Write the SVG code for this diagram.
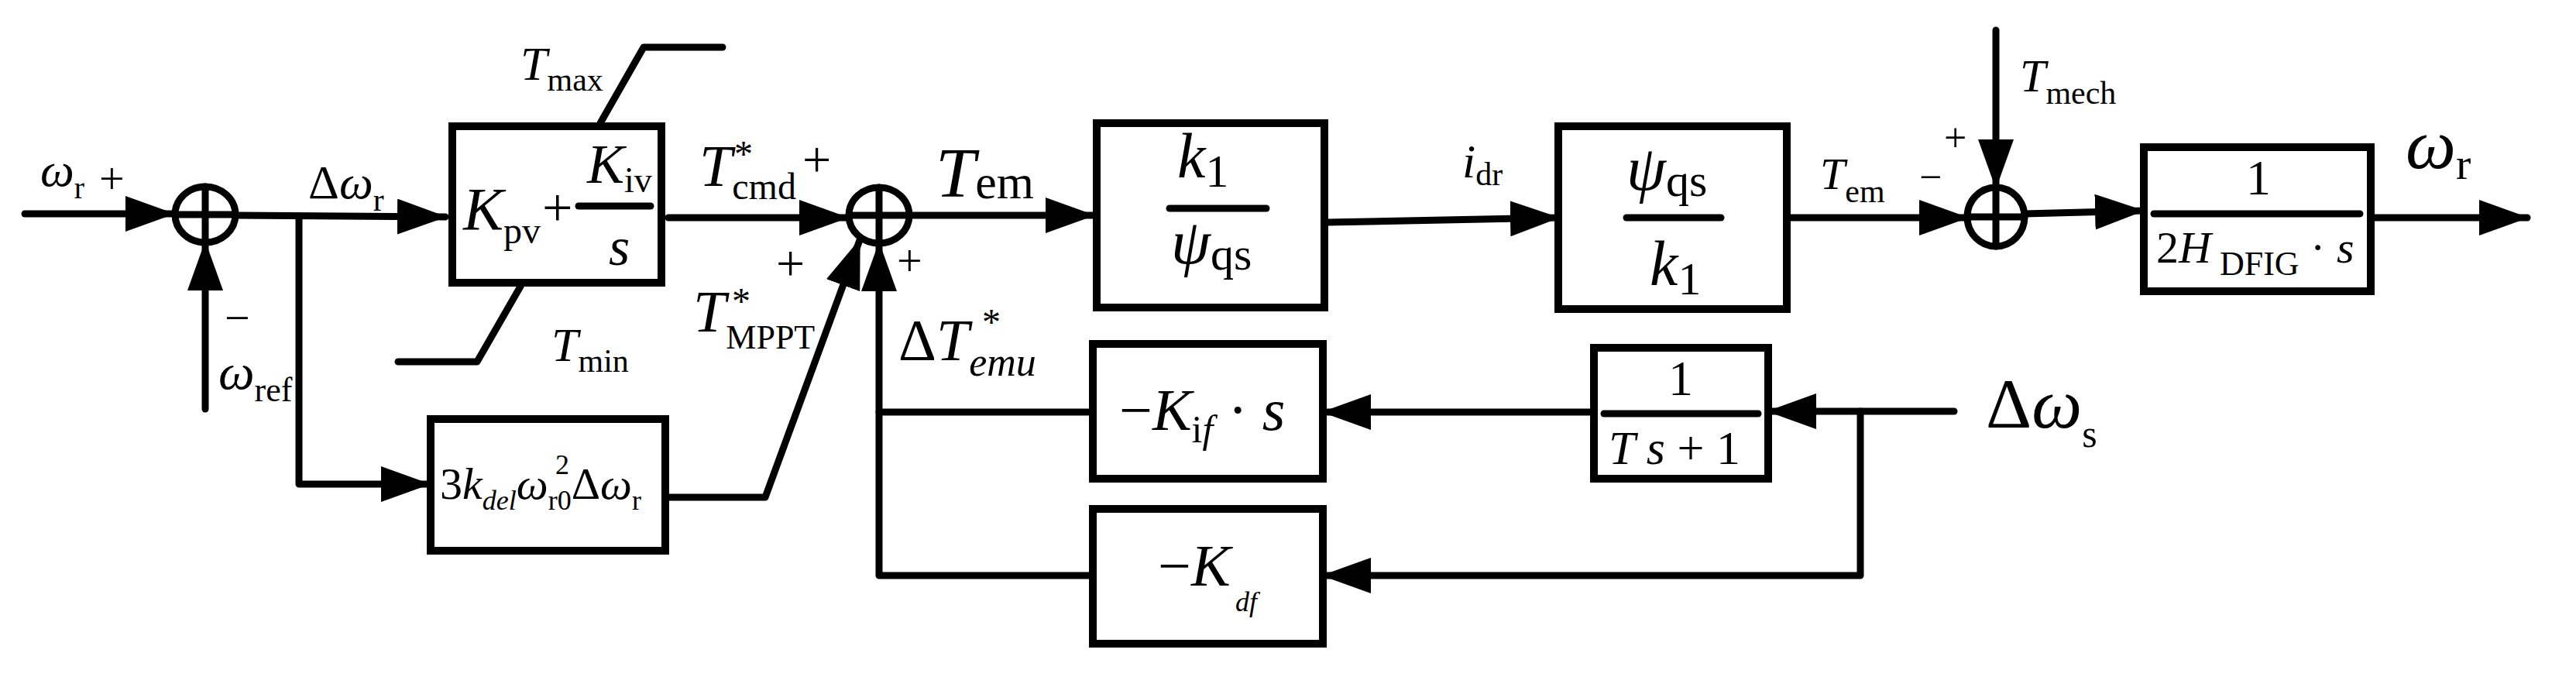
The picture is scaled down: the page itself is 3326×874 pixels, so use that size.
<svg xmlns="http://www.w3.org/2000/svg" width="3326" height="874" viewBox="0 0 3326 874">
<style>
.l{fill:none;stroke:#000;stroke-width:9;stroke-linecap:round;stroke-linejoin:round}
.b{fill:#fff;stroke:#000;stroke-width:10}
text{font-family:"Liberation Serif","Times New Roman",serif;fill:#000}
.i{font-style:italic}
</style>
<defs>
<marker id="a" markerUnits="userSpaceOnUse" markerWidth="64" markerHeight="46" refX="62" refY="23" orient="auto"><path d="M0,0 L64,23 L0,46 z" fill="#000"/></marker>
</defs>
<g id="connectors" class="l">
<path d="M32,276 L224,276" marker-end="url(#a)"/>
<path d="M265,528 L265,313" marker-end="url(#a)"/>
<path d="M305,278 L575,280" marker-end="url(#a)"/>
<path d="M386,279 L386,625 L554,625" marker-end="url(#a)"/>
<path d="M863,281 L1094,281" marker-end="url(#a)"/>
<path d="M859,642 L988,642 L1110,310" marker-end="url(#a)"/>
<path d="M1411,743 L1135,743 L1135,314" marker-end="url(#a)"/>
<path d="M1411,532 L1135,532"/>
<path d="M1174,278 L1412,278" marker-end="url(#a)"/>
<path d="M1714,287 L2012,281" marker-end="url(#a)"/>
<path d="M2307,281 L2540,281" marker-end="url(#a)"/>
<path d="M2577,39 L2577,242" marker-end="url(#a)"/>
<path d="M2614,276 L2767,272" marker-end="url(#a)"/>
<path d="M3061,281 L3263,281" marker-end="url(#a)"/>
<path d="M2523,531 L2283,531" marker-end="url(#a)"/>
<path d="M2058,532 L1708,532" marker-end="url(#a)"/>
<path d="M2402,531 L2402,743 L1708,743" marker-end="url(#a)"/>
<path d="M775,159 L831,61 L933,61"/>
<path d="M673,368 L616,467 L514,467"/>
</g>
<g id="sum1" class="l"><ellipse cx="265" cy="277" rx="39" ry="36"/><path d="M226,277 H304 M265,241 V313"/></g>
<g id="sum2" class="l"><ellipse cx="1135" cy="278" rx="39" ry="36"/><path d="M1096,278 H1174 M1135,242 V314"/></g>
<g id="sum3" class="l"><ellipse cx="2577" cy="280" rx="37" ry="38"/><path d="M2540,280 H2614 M2577,242 V318"/></g>
<g id="pi"><rect class="b" x="584" y="163" width="270" height="202"/>
<text x="598" y="296" font-size="78" class="i">K<tspan font-size="48" font-style="normal" dy="18">pv</tspan></text>
<text x="700" y="292" font-size="70">+</text>
<path class="l" d="M747,266 H840"/>
<text x="758" y="236" font-size="72" class="i">K<tspan font-size="46" font-style="normal" dy="12">iv</tspan></text>
<text x="786" y="342" font-size="70" class="i">s</text>
</g>
<g id="mppt"><rect class="b" x="556" y="541" width="303" height="170"/>
<text x="568" y="644" font-size="58">3<tspan class="i">k</tspan><tspan class="i" font-size="36" dy="14">del</tspan><tspan class="i" font-size="58" dy="-14">ω</tspan><tspan font-size="36" dy="14">r0</tspan><tspan font-size="58" dy="-14">Δ</tspan><tspan class="i" font-size="58">ω</tspan><tspan font-size="36" dy="14">r</tspan></text>
<text x="717" y="612" font-size="36">2</text>
</g>
<g id="k1psi"><rect class="b" x="1416" y="159" width="294" height="238"/>
<text x="1520" y="229" font-size="82" class="i">k<tspan font-size="60" font-style="normal" dy="12">1</tspan></text>
<path class="l" d="M1510,269 H1635"/>
<text x="1512" y="340" font-size="82" class="i">ψ<tspan font-size="60" font-style="normal" dy="8">qs</tspan></text>
</g>
<g id="psik1"><rect class="b" x="2012" y="163" width="295" height="236"/>
<text x="2100" y="245" font-size="82" class="i">ψ<tspan font-size="60" font-style="normal" dy="8">qs</tspan></text>
<path class="l" d="M2100,281 H2222"/>
<text x="2130" y="368" font-size="82" class="i">k<tspan font-size="60" font-style="normal" dy="12">1</tspan></text>
</g>
<g id="kif"><rect class="b" x="1411" y="444" width="297" height="174"/>
<text x="1445" y="555" font-size="76">−<tspan class="i">K</tspan><tspan font-size="50" dy="16">i</tspan><tspan class="i" font-size="50">f</tspan><tspan dy="-16"> · </tspan><tspan class="i">s</tspan></text>
</g>
<g id="kdf"><rect class="b" x="1411" y="657" width="297" height="174"/>
<text x="1495" y="756" font-size="76">−<tspan class="i">K</tspan></text>
<text x="1595" y="789" font-size="36" class="i">df</text>
</g>
<g id="lag"><rect class="b" x="2058" y="449" width="225" height="169"/>
<text x="2170" y="510" font-size="64" text-anchor="middle">1</text>
<path class="l" d="M2071,534 H2270"/>
<text x="2077" y="599" font-size="62"><tspan class="i">T s</tspan> + 1</text>
</g>
<g id="inertia"><rect class="b" x="2768" y="190" width="293" height="186"/>
<text x="2916" y="251" font-size="64" text-anchor="middle">1</text>
<path class="l" d="M2781,276 H3047"/>
<text x="2784" y="339" font-size="58">2<tspan class="i">H</tspan><tspan font-size="44" dy="16"> DFIG</tspan><tspan dy="-16"> · </tspan><tspan class="i">s</tspan></text>
</g>
<g id="labels">
<text x="52" y="240" font-size="62" class="i">ω<tspan font-size="40" font-style="normal" dy="16">r</tspan></text>
<text x="128" y="250" font-size="58">+</text>
<text x="290" y="430" font-size="58">−</text>
<text x="282" y="502" font-size="66" class="i">ω<tspan font-size="44" font-style="normal" dy="16">ref</tspan></text>
<text x="398" y="256" font-size="62">Δ<tspan class="i">ω</tspan><tspan font-size="42" dy="16">r</tspan></text>
<text x="672" y="103" font-size="62" class="i">T<tspan font-size="42" font-style="normal" dy="14">max</tspan></text>
<text x="712" y="466" font-size="62" class="i">T<tspan font-size="42" font-style="normal" dy="14">min</tspan></text>
<text x="903" y="240" font-size="76" class="i">T<tspan font-size="48" font-style="normal" dy="17">cmd</tspan></text>
<text x="948" y="215" font-size="48">*</text>
<text x="1036" y="228" font-size="66">+</text>
<text x="895" y="428" font-size="76" class="i">T<tspan font-size="44" font-style="normal" dy="22">MPPT</tspan></text>
<text x="945" y="405" font-size="48">*</text>
<text x="1002" y="362" font-size="66">+</text>
<text x="1158" y="356" font-size="58">+</text>
<text x="1160" y="465" font-size="76">Δ<tspan class="i">T</tspan><tspan class="i" font-size="52" dy="20">emu</tspan></text>
<text x="1268" y="432" font-size="48">*</text>
<text x="1208" y="254" font-size="92" class="i">T<tspan font-size="62" font-style="normal" dy="2">em</tspan></text>
<text x="1888" y="229" font-size="62" class="i">i<tspan font-size="42" font-style="normal" dy="10">dr</tspan></text>
<text x="2350" y="244" font-size="58" class="i">T<tspan font-size="42" font-style="normal" dy="17">em</tspan></text>
<text x="2478" y="246" font-size="52">−</text>
<text x="2510" y="195" font-size="52">+</text>
<text x="2608" y="118" font-size="60" class="i">T<tspan font-size="42" font-style="normal" dy="16">mech</tspan></text>
<text x="3106" y="217" font-size="92" class="i">ω<tspan font-size="58" font-style="normal" dy="14">r</tspan></text>
<text x="2564" y="552" font-size="92">Δ<tspan class="i">ω</tspan><tspan font-size="50" dy="25">s</tspan></text>
</g>
</svg>
